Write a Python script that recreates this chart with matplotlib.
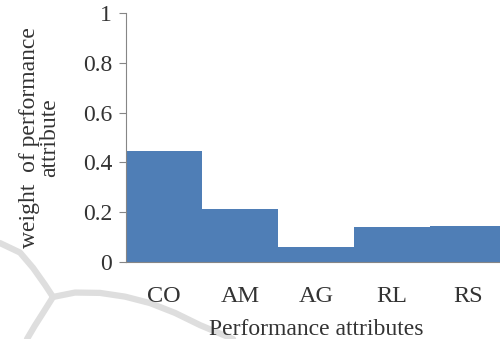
import numpy as np
import matplotlib.pyplot as plt
from matplotlib.lines import Line2D

attributes = ['CO', 'AM', 'AG', 'RL', 'RS']
weights = [0.446, 0.213, 0.060, 0.140, 0.143]

plt.rcParams['font.family'] = 'Liberation Serif'

fig = plt.figure(figsize=(5, 3.39), dpi=100)

# faint watermark curves in the background
wm = dict(color='#dedede', lw=4.5, zorder=0, solid_capstyle='round')
fig.add_artist(Line2D([0.0, 0.04, 0.066, 0.09, 0.106], [0.283, 0.255, 0.21, 0.16, 0.124], **wm))
fig.add_artist(Line2D([0.106, 0.086, 0.07, 0.054], [0.124, 0.077, 0.04, 0.0], **wm))
fig.add_artist(Line2D([0.106, 0.15, 0.2, 0.25, 0.3, 0.35, 0.4, 0.466],
                      [0.124, 0.137, 0.136, 0.125, 0.106, 0.077, 0.041, 0.0], **wm))

ax = fig.add_axes([0.252, 0.227, 0.76, 0.735])
ax.patch.set_alpha(0)
x = np.arange(len(attributes))
ax.bar(x, weights, width=1.0, color='#4F7EB6', zorder=2)

ax.set_xlim(-0.5, len(attributes) - 0.5)
ax.set_ylim(0, 1)
ax.set_yticks([0, 0.2, 0.4, 0.6, 0.8, 1])
ax.set_yticklabels(['0', '0.2', '0.4', '0.6', '0.8', '1'])
ax.set_xticks(x)
ax.set_xticklabels(attributes)

for s in ['top', 'right']:
    ax.spines[s].set_visible(False)
for s in ['left', 'bottom']:
    ax.spines[s].set_color('#868686')
ax.tick_params(axis='y', length=5, color='#868686', labelsize=17, labelcolor='#333333', pad=5)
ax.tick_params(axis='x', length=0, labelsize=17.5, labelcolor='#333333', pad=17)

ax.set_xlabel('Performance attributes', fontsize=17, color='#333333', labelpad=9)
ax.set_ylabel('weight  of performance\nattribute', fontsize=17, color='#333333',
              labelpad=16, linespacing=1.0)

fig.savefig('out.png', dpi=100)
